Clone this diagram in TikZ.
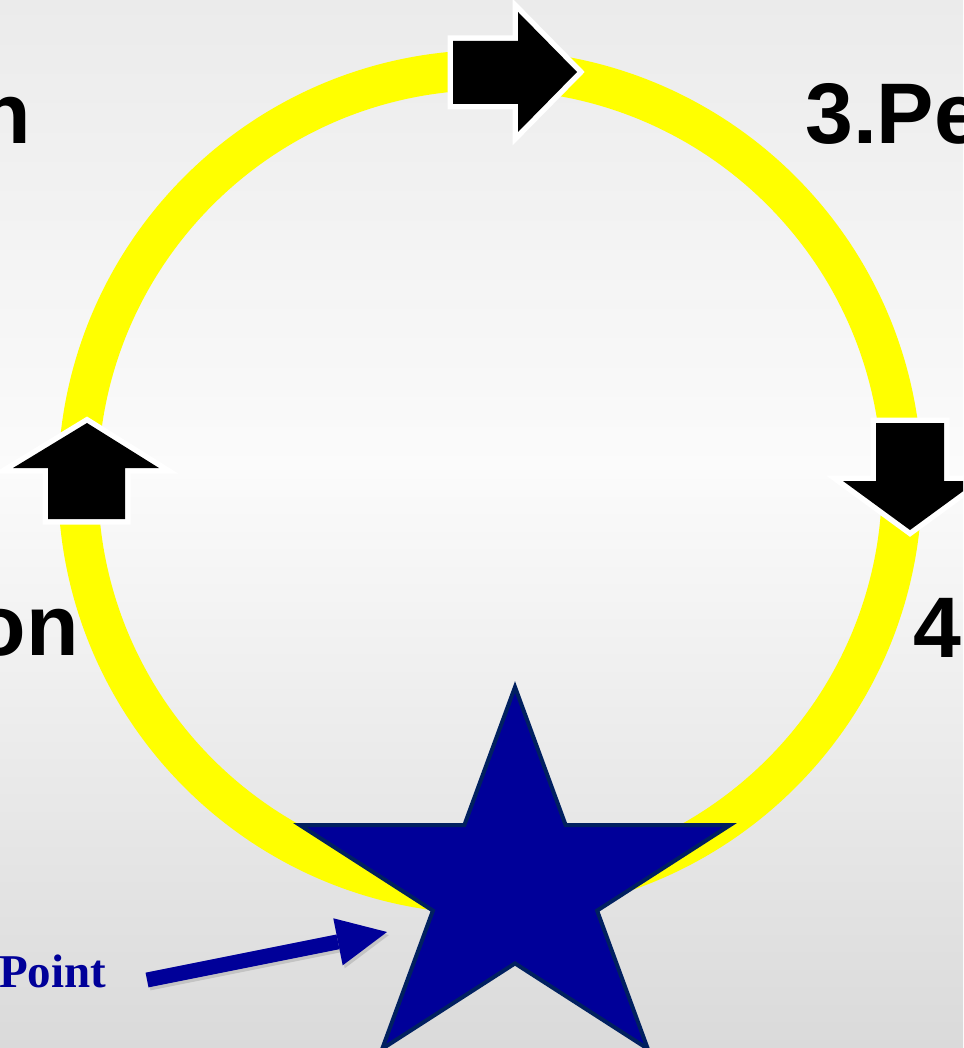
\documentclass[tikz,border=0pt]{standalone}
\usepackage{fontspec}
\setmainfont{Liberation Serif}
\setsansfont{Liberation Sans}
\usetikzlibrary{arrows.meta}
\definecolor{ringyellow}{RGB}{255,255,0}
\definecolor{starblue}{RGB}{0,0,153}
\definecolor{starline}{RGB}{0,32,96}
\definecolor{bgtop}{RGB}{235,235,235}
\definecolor{bgmid}{RGB}{251,251,251}
\definecolor{bgbot}{RGB}{218,218,218}
\begin{document}
\begin{tikzpicture}[x=1pt,y=-1pt,
  lbl/.style={font=\sffamily\bfseries\fontsize{86}{90}\selectfont, text=black, inner sep=0pt},
  pointlbl/.style={font=\rmfamily\bfseries\fontsize{47}{52}\selectfont, text=starblue, inner sep=0pt},
  blockarrow/.style={fill=black, preaction={draw=white, line width=11pt, line join=miter}},
  ring/.style={draw=ringyellow, line width=40pt},
  starshape/.style={draw=starline, fill=starblue, line width=4pt, line join=miter},
  pointer/.style={draw=starblue, line width=15pt, -{Triangle[length=50pt,width=48pt,line width=0pt]}},
  pointershadow/.style={draw=black, opacity=0.12, line width=15pt, -{Triangle[length=50pt,width=48pt,line width=0pt]}}]
\useasboundingbox (0,0) rectangle (963,1048);
\clip (0,0) rectangle (963,1048);
% background
\shade[top color=bgtop, bottom color=bgmid] (0,0) rectangle (963,470);
\shade[top color=bgmid, bottom color=bgbot] (0,470) rectangle (963,1048);
% ring
\path[ring] (490,482) circle[radius=412pt];
% block arrows on the ring
\path[blockarrow] (453,41) -- (518,41) -- (518,12) -- (577,72) -- (518,132) -- (518,104) -- (453,104) -- cycle;
\path[blockarrow] (87,423) -- (159,468) -- (125,468) -- (125,519) -- (48,519) -- (48,468) -- (13,468) -- cycle;
\path[blockarrow] (876,423) -- (944,423) -- (944,481) -- (977,481) -- (910,530) -- (843,481) -- (876,481) -- cycle;
% star
\path[starshape] (515,687) -- (464.3,825.2) -- (300.1,825.2) -- (432.9,910.6) -- (382.2,1048.8) -- (515,963.4) -- (647.8,1048.8) -- (597.1,910.6) -- (729.9,825.2) -- (565.7,825.2) -- cycle;
% labels
\node[lbl, anchor=base east] (lblA) at (31,144) {n};
\node[lbl, anchor=base west] (lblB) at (805,144) {3.Pe};
\node[lbl, anchor=base east] (lblC) at (79,655) {on};
\node[lbl, anchor=base west] (lblD) at (913,657) {4};
\node[pointlbl, anchor=base west] (lblP) at (-1,987) {Point};
% pointer arrow
\coordinate (ptail) at (147,980);
\coordinate (ptip) at (387,932);
\draw[pointershadow] ([shift={(2,3)}]ptail) -- ([shift={(2,3)}]ptip);
\draw[pointer] (ptail) -- (ptip);
\end{tikzpicture}
\end{document}
